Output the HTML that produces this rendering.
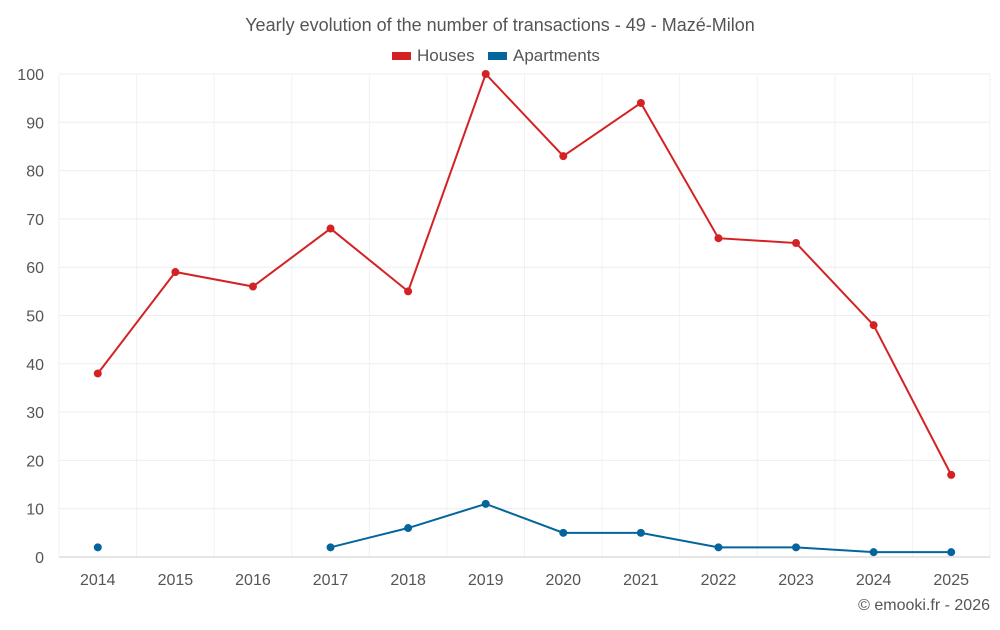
<!DOCTYPE html>
<html><head><meta charset="utf-8"><style>
body{margin:0;background:#fff;font-family:"Liberation Sans",sans-serif}
svg text{font-family:"Liberation Sans",sans-serif}
</style></head><body>
<svg id="c" width="1000" height="625" viewBox="0 0 1000 625">
<text x="500" y="31" text-anchor="middle" font-size="18" fill="#555">Yearly evolution of the number of transactions - 49 - Mazé-Milon</text>
<g><rect x="392" y="52" width="19" height="8" fill="#d42224"/><text x="417" y="61" font-size="17" fill="#555">Houses</text></g>
<g><rect x="488" y="52" width="19" height="8" fill="#04659d"/><text x="513" y="61" font-size="17" fill="#555">Apartments</text></g>
<g id="grid"></g><g id="axes"></g><g id="series"></g>
<text x="990" y="610" text-anchor="end" font-size="16" fill="#555">© emooki.fr - 2026</text>
</svg>
<script>
const years=[2014,2015,2016,2017,2018,2019,2020,2021,2022,2023,2024,2025];
const houses=[38,59,56,68,55,100,83,94,66,65,48,17];
const apartments=[2,null,null,2,6,11,5,5,2,2,1,1];
const yTicks=[0,10,20,30,40,50,60,70,80,90,100];
const NS="http://www.w3.org/2000/svg";
const L=59,R=990,T=74,B=557,bw=(R-L)/years.length;
const x=i=>L+bw*(i+0.5), y=v=>B-(v/100)*(B-T);
function mk(t,a,p){const e=document.createElementNS(NS,t);for(const k in a)e.setAttribute(k,a[k]);p.appendChild(e);return e;}
const g=document.getElementById('grid'),ax=document.getElementById('axes'),s=document.getElementById('series');
for(let i=0;i<=years.length;i++){
 const l=mk('line',{x1:L+bw*i,x2:L+bw*i,y1:T,y2:B,stroke:'#f2f2f2'},g);
 
 
}
yTicks.forEach(v=>{
 const l=mk('line',{x1:L,x2:R,y1:y(v),y2:y(v),stroke:v===0?'#ccc':'#eeeeee'},g);
 
 
 const t=mk('text',{x:44,y:y(v)+6,'text-anchor':'end','font-size':16,fill:'#555'},ax);t.textContent=v;
 
 
});
years.forEach((yr,i)=>{
 const t=mk('text',{x:x(i),y:585,'text-anchor':'middle','font-size':16,fill:'#555'},ax);t.textContent=yr;
 
 
});
function draw(data,color,name){
 let segs=[],cur=[];
 data.forEach((v,i)=>{if(v==null){if(cur.length)segs.push(cur);cur=[];}else cur.push([x(i),y(v)]);});
 if(cur.length)segs.push(cur);
 segs.forEach(sg=>{if(sg.length>1){const p=mk('polyline',{points:sg.map(q=>q.join(',')).join(' '),fill:'none',stroke:color,'stroke-width':2},s);
  
  }});
 data.forEach((v,i)=>{if(v==null)return;const c=mk('circle',{cx:x(i),cy:y(v),r:4,fill:color},s);
  
  });
}
draw(houses,'#d42224','houses');
draw(apartments,'#04659d','apartments');
</script>
</body></html>
